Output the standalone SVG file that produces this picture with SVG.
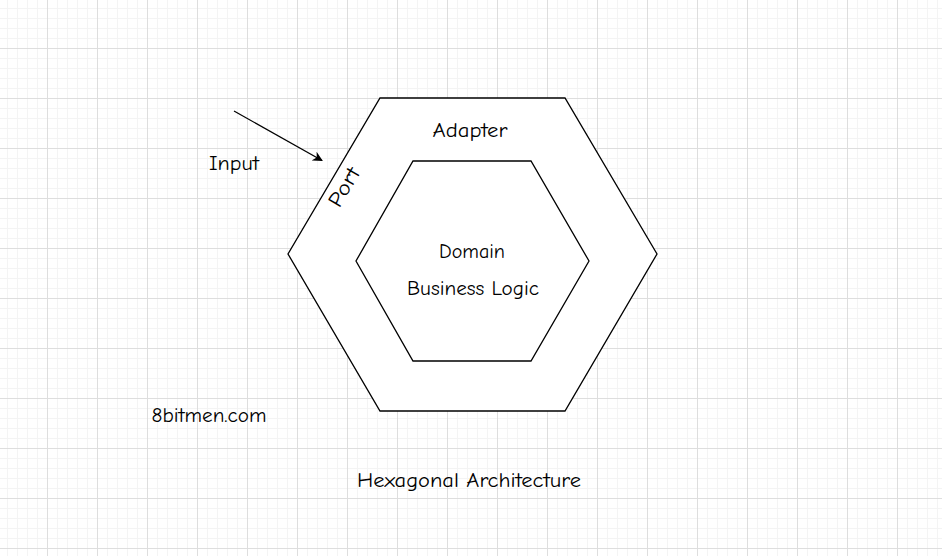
<svg xmlns="http://www.w3.org/2000/svg" width="942" height="556" viewBox="0 0 942 556">
<defs>
<pattern id="minor" x="7" y="8" width="10" height="10" patternUnits="userSpaceOnUse">
<path d="M0.5 0V10M0 0.5H10" fill="none" stroke="#f4f4f4" stroke-width="1"/>
</pattern>
<pattern id="major" x="47" y="48" width="50" height="50" patternUnits="userSpaceOnUse">
<path d="M0.5 0V50M0 0.5H50" fill="none" stroke="#dedede" stroke-width="1"/>
</pattern>
<marker id="arrow" viewBox="0 0 10 10" refX="9" refY="5" markerWidth="10" markerHeight="10" markerUnits="userSpaceOnUse" orient="auto">
<path d="M0 0L10 5L0 10L3 5Z" fill="#000"/>
</marker>
</defs>
<style>
.hex{fill:#fff;stroke:#000;stroke-width:1.3}
.t{font-family:"Comic Sans MS","Comic Neue","DejaVu Sans",sans-serif;font-size:21px;fill:#000;text-anchor:middle;dominant-baseline:central}
</style>
<rect width="942" height="556" fill="#fff"/>
<rect width="942" height="556" fill="url(#minor)"/>
<rect width="942" height="556" fill="url(#major)"/>
<g id="adapter">
<polygon class="hex" points="380,98 565,98 657,254 565,411 380,411 288,254"/>
<text class="t" x="470" y="130" textLength="75" lengthAdjust="spacingAndGlyphs">Adapter</text>
</g>
<g id="domain">
<polygon class="hex" points="413,161 531,161 589,261 531,361 413,361 356,261"/>
<text class="t" x="472" y="251" textLength="66" lengthAdjust="spacingAndGlyphs">Domain</text>
<text class="t" x="473" y="288" textLength="132" lengthAdjust="spacingAndGlyphs">Business Logic</text>
</g>
<g id="port">
<text class="t" transform="translate(344,187) rotate(-59.5)" textLength="42" lengthAdjust="spacingAndGlyphs">Port</text>
</g>
<g id="input">
<text class="t" x="234" y="163" textLength="50" lengthAdjust="spacingAndGlyphs">Input</text>
</g>
<g id="connectors">
<line x1="234" y1="111" x2="322" y2="160.5" stroke="#000" stroke-width="1.3" marker-end="url(#arrow)"/>
</g>
<g id="labels">
<text class="t" x="209" y="415" textLength="115" lengthAdjust="spacingAndGlyphs">8bitmen.com</text>
<text class="t" x="469" y="480" textLength="224" lengthAdjust="spacingAndGlyphs">Hexagonal Architecture</text>
</g>
</svg>
